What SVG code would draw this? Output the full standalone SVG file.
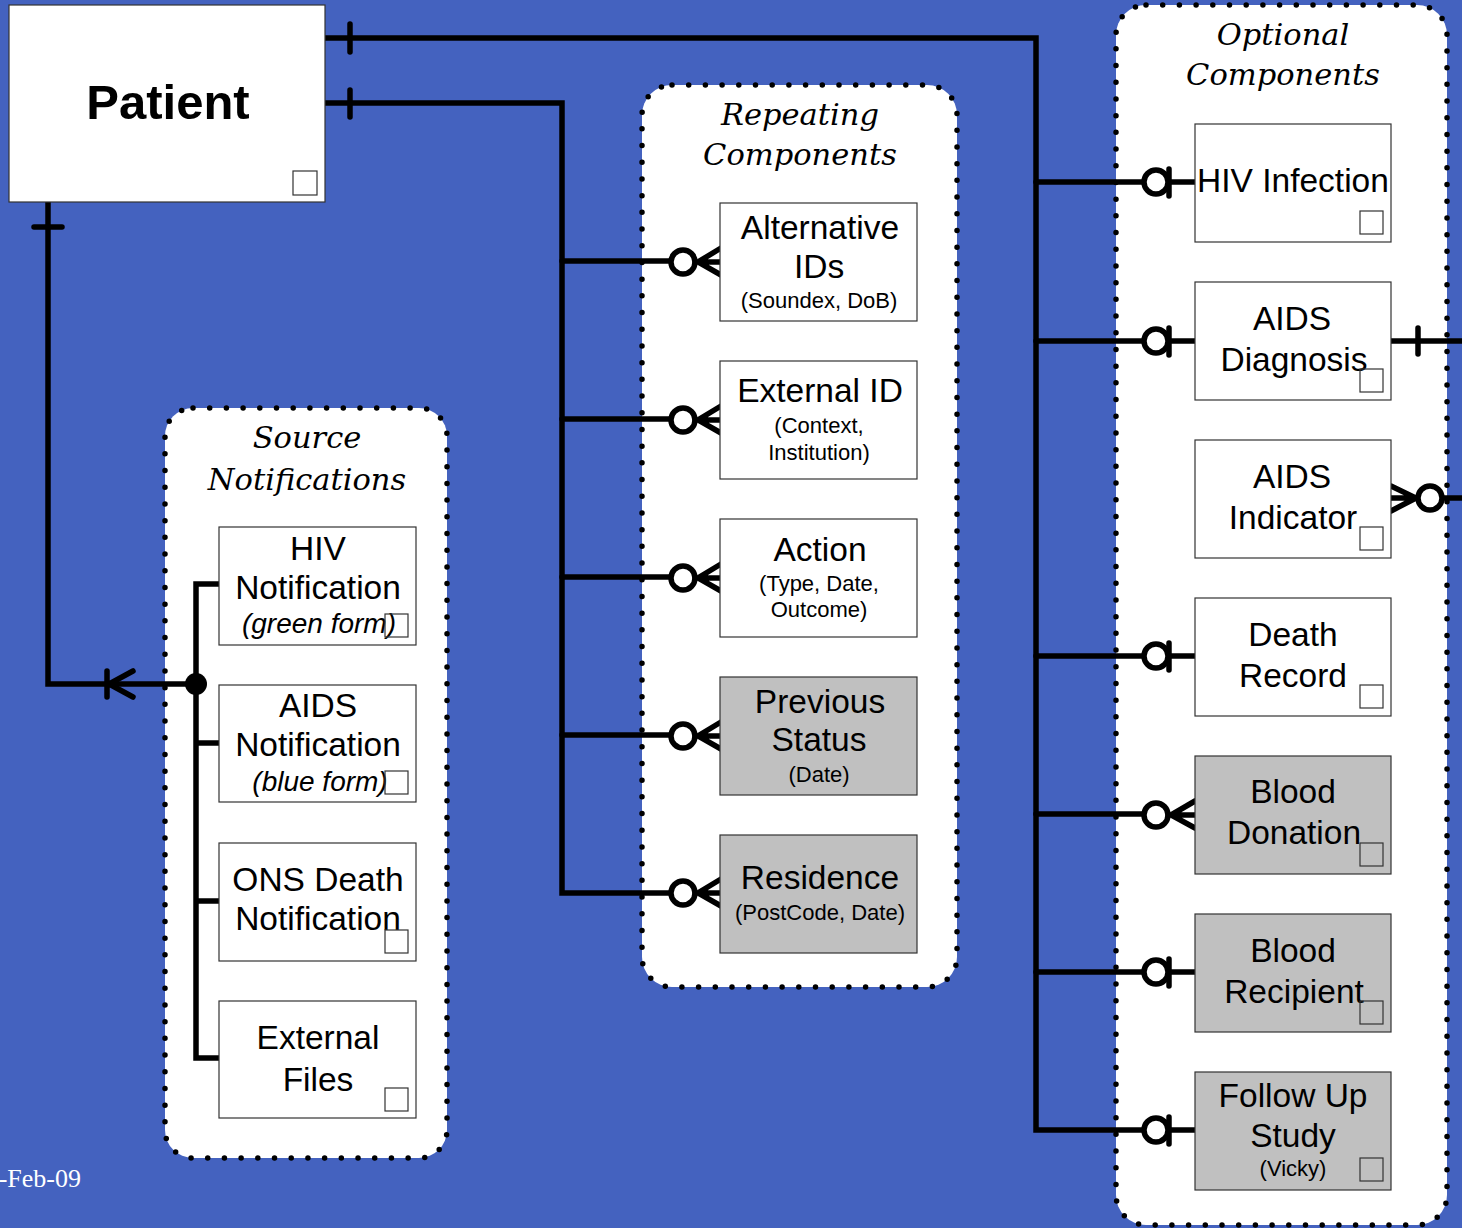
<svg xmlns="http://www.w3.org/2000/svg" width="1462" height="1228" viewBox="0 0 1462 1228">
<style>
.bg{fill:#4462BF}
.cont{fill:#fff;stroke:#000;stroke-width:5.5;stroke-dasharray:0 16.7;stroke-linecap:round}
.ctitle{font-family:"DejaVu Serif",serif;font-style:italic;font-size:30.5px;fill:#000;text-anchor:middle}
.box{fill:#fff;stroke:#333;stroke-width:1.2}
.gbox{fill:#C0C0C0;stroke:#333;stroke-width:1.2}
.sq{fill:none;stroke:#333;stroke-width:1.2}
.t{font-family:"Liberation Sans",Arial,sans-serif;font-size:33.5px;fill:#000;text-anchor:middle}
.s{font-family:"Liberation Sans",Arial,sans-serif;font-size:22px;fill:#000;text-anchor:middle}
.i{font-family:"Liberation Sans",Arial,sans-serif;font-size:28px;font-style:italic;fill:#000;text-anchor:middle}
.ln{fill:none;stroke:#000;stroke-width:5.5;stroke-linecap:round;stroke-linejoin:miter}
.circ{fill:#fff;stroke:#000;stroke-width:5.5}
</style>
<rect class="bg" x="0" y="0" width="1462" height="1228"/>
<text x="81" y="1187" text-anchor="end" font-family="Liberation Serif,serif" font-size="26" fill="#fff">-Feb-09</text>

<g id="source-notifications">
<rect class="cont" x="165" y="408" width="282" height="750" rx="28"/>
<text class="ctitle" x="307" y="448">Source</text>
<text class="ctitle" x="307" y="490">Notifications</text>
</g>
<g id="repeating-components">
<rect class="cont" x="642" y="85" width="315" height="902" rx="30"/>
<text class="ctitle" x="800" y="125">Repeating</text>
<text class="ctitle" x="800" y="165">Components</text>
</g>
<g id="optional-components">
<rect class="cont" x="1116" y="5" width="331" height="1220" rx="30"/>
<text class="ctitle" x="1283" y="45">Optional</text>
<text class="ctitle" x="1283" y="85">Components</text>
</g>

<g id="connectors">
<path class="ln" d="M323,38 H1036 V1130 H1145"/>
<path class="ln" d="M350,24 V52"/>
<path class="ln" d="M323,103 H562 V893 H670"/>
<path class="ln" d="M350,90 V117"/>
<path class="ln" d="M48,202 V684 H196"/>
<path class="ln" d="M34,227 H62"/>
<path class="ln" d="M107,671 V697 M133,671 L109,684 L133,697"/>
<circle cx="196" cy="684" r="11" fill="#000"/>
<path class="ln" d="M219,584 H196 V1058 H219 M196,743 H219 M196,901 H219"/>

<path class="ln" d="M562,261 H670 M562,419 H670 M562,577 H670 M562,735 H670"/>
<g id="cf-alt"><circle class="circ" cx="683" cy="262" r="12"/><path class="ln" d="M695,262 H721 M721,248 L698,262 L721,275"/></g>
<g id="cf-ext"><circle class="circ" cx="683" cy="420" r="12"/><path class="ln" d="M695,420 H721 M721,406 L698,420 L721,433"/></g>
<g id="cf-act"><circle class="circ" cx="683" cy="578" r="12"/><path class="ln" d="M695,578 H721 M721,564 L698,578 L721,591"/></g>
<g id="cf-prev"><circle class="circ" cx="683" cy="736" r="12"/><path class="ln" d="M695,736 H721 M721,722 L698,736 L721,749"/></g>
<g id="cf-res"><circle class="circ" cx="683" cy="893" r="12"/><path class="ln" d="M695,893 H721 M721,879 L698,893 L721,906"/></g>

<path class="ln" d="M1036,182 H1145 M1036,341 H1145 M1036,656 H1145 M1036,814 H1145 M1036,972 H1145"/>
<g id="z1-hiv"><circle class="circ" cx="1156" cy="182" r="12"/><path class="ln" d="M1169,169 V196 M1169,182 H1195"/></g>
<g id="z1-diag"><circle class="circ" cx="1156" cy="341" r="12"/><path class="ln" d="M1169,328 V355 M1169,341 H1195"/></g>
<g id="z1-death"><circle class="circ" cx="1156" cy="656" r="12"/><path class="ln" d="M1169,643 V670 M1169,656 H1195"/></g>
<g id="cf-donation"><circle class="circ" cx="1156" cy="815" r="12"/><path class="ln" d="M1168,815 H1195 M1195,801 L1171,815 L1195,828"/></g>
<g id="z1-recip"><circle class="circ" cx="1156" cy="972" r="12"/><path class="ln" d="M1169,959 V986 M1169,972 H1195"/></g>
<g id="z1-follow"><circle class="circ" cx="1156" cy="1130" r="12"/><path class="ln" d="M1169,1117 V1144 M1169,1130 H1195"/></g>

<path class="ln" d="M1391,341 H1470 M1418,328 V354"/>
<path class="ln" d="M1391,498 H1418 M1391,486 L1416,498 L1391,511 M1442,498 H1470"/>
<circle class="circ" cx="1430" cy="498" r="12"/>
</g>

<g id="patient">
<rect class="box" x="9" y="5" width="316" height="197"/>
<text x="168" y="119" font-family="Liberation Sans,Arial,sans-serif" font-weight="bold" font-size="49" text-anchor="middle">Patient</text>
<rect class="sq" x="293" y="171" width="24" height="24"/>
</g>

<g id="hiv-notification">
<rect class="box" x="219" y="527" width="197" height="118"/>
<text class="t" x="318" y="560">HIV</text>
<text class="t" x="318" y="599">Notification</text>
<text class="i" x="319" y="633">(green form)</text>
<rect class="sq" x="385" y="614" width="23" height="23"/>
</g>
<g id="aids-notification">
<rect class="box" x="219" y="685" width="197" height="117"/>
<text class="t" x="318" y="717">AIDS</text>
<text class="t" x="318" y="756">Notification</text>
<text class="i" x="320" y="791">(blue form)</text>
<rect class="sq" x="385" y="771" width="23" height="23"/>
</g>
<g id="ons-death-notification">
<rect class="box" x="219" y="843" width="197" height="118"/>
<text class="t" x="318" y="891">ONS Death</text>
<text class="t" x="318" y="930">Notification</text>
<rect class="sq" x="385" y="930" width="23" height="23"/>
</g>
<g id="external-files">
<rect class="box" x="219" y="1001" width="197" height="117"/>
<text class="t" x="318" y="1049">External</text>
<text class="t" x="318" y="1091">Files</text>
<rect class="sq" x="385" y="1088" width="23" height="23"/>
</g>

<g id="alternative-ids">
<rect class="box" x="720" y="203" width="197" height="118"/>
<text class="t" x="820" y="239">Alternative</text>
<text class="t" x="819" y="278">IDs</text>
<text class="s" x="819" y="308">(Soundex, DoB)</text>
</g>
<g id="external-id">
<rect class="box" x="720" y="361" width="197" height="118"/>
<text class="t" x="820" y="402">External ID</text>
<text class="s" x="819" y="433">(Context,</text>
<text class="s" x="819" y="460">Institution)</text>
</g>
<g id="action">
<rect class="box" x="720" y="519" width="197" height="118"/>
<text class="t" x="820" y="561">Action</text>
<text class="s" x="819" y="591">(Type, Date,</text>
<text class="s" x="819" y="617">Outcome)</text>
</g>
<g id="previous-status">
<rect class="gbox" x="720" y="677" width="197" height="118"/>
<text class="t" x="820" y="713">Previous</text>
<text class="t" x="819" y="751">Status</text>
<text class="s" x="819" y="782">(Date)</text>
</g>
<g id="residence">
<rect class="gbox" x="720" y="835" width="197" height="118"/>
<text class="t" x="820" y="889">Residence</text>
<text class="s" x="820" y="920">(PostCode, Date)</text>
</g>

<g id="hiv-infection">
<rect class="box" x="1195" y="124" width="196" height="118"/>
<text class="t" x="1293" y="192">HIV Infection</text>
<rect class="sq" x="1360" y="211" width="23" height="23"/>
</g>
<g id="aids-diagnosis">
<rect class="box" x="1195" y="282" width="196" height="118"/>
<text class="t" x="1292" y="330">AIDS</text>
<text class="t" x="1294" y="371">Diagnosis</text>
<rect class="sq" x="1360" y="369" width="23" height="23"/>
</g>
<g id="aids-indicator">
<rect class="box" x="1195" y="440" width="196" height="118"/>
<text class="t" x="1292" y="488">AIDS</text>
<text class="t" x="1293" y="529">Indicator</text>
<rect class="sq" x="1360" y="527" width="23" height="23"/>
</g>
<g id="death-record">
<rect class="box" x="1195" y="598" width="196" height="118"/>
<text class="t" x="1293" y="646">Death</text>
<text class="t" x="1293" y="687">Record</text>
<rect class="sq" x="1360" y="685" width="23" height="23"/>
</g>
<g id="blood-donation">
<rect class="gbox" x="1195" y="756" width="196" height="118"/>
<text class="t" x="1293" y="803">Blood</text>
<text class="t" x="1294" y="844">Donation</text>
<rect class="sq" x="1360" y="843" width="23" height="23"/>
</g>
<g id="blood-recipient">
<rect class="gbox" x="1195" y="914" width="196" height="118"/>
<text class="t" x="1293" y="962">Blood</text>
<text class="t" x="1294" y="1003">Recipient</text>
<rect class="sq" x="1360" y="1001" width="23" height="23"/>
</g>
<g id="follow-up-study">
<rect class="gbox" x="1195" y="1072" width="196" height="118"/>
<text class="t" x="1293" y="1107">Follow Up</text>
<text class="t" x="1293" y="1147">Study</text>
<text class="s" x="1293" y="1176">(Vicky)</text>
<rect class="sq" x="1360" y="1158" width="23" height="23"/>
</g>
</svg>
